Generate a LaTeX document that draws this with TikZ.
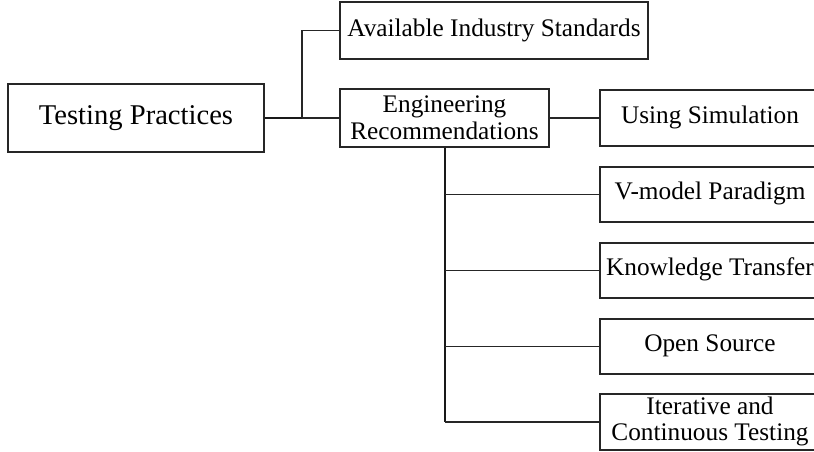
\documentclass[tikz,border=0pt]{standalone}
\usepackage{fontspec}
\setmainfont{Liberation Serif}
\newcommand{\leaftext}[1]{\begin{tabular}{@{}c@{}}#1\end{tabular}\hspace{40pt}}
\begin{document}
\begin{tikzpicture}[x=1pt,y=1pt,
  box/.style={draw=black!85, line width=1.5pt, rectangle, inner sep=0pt, align=center,
    font=\fontsize{25.3}{26.5}\selectfont},
  leaf/.style={box, minimum width=260pt, minimum height=55pt},
  conn/.style={draw=black!85, line width=1.5pt},
  trunk/.style={draw=black!90, line width=2pt}]
\useasboundingbox (0,0) rectangle (814,452);
\clip (0,0) rectangle (814,452);
\node[box, minimum width=256pt, minimum height=68pt, font=\fontsize{28.6}{30}\selectfont] (tp) at (136,334) {Testing Practices};
\node[box, minimum width=308pt, minimum height=57pt] (ais) at (494,421.5) {Available Industry Standards};
\node[box, minimum width=209pt, minimum height=58pt] (er) at (444.5,334) {Engineering\\Recommendations};
\node[leaf, minimum height=56pt] (us) at (730,334) {\leaftext{Using Simulation}};
\node[leaf] (vm) at (730,257.5) {\leaftext{V-model Paradigm}};
\node[leaf] (kt) at (730,181.5) {\leaftext{Knowledge Transfer}};
\node[leaf] (os) at (730,105.5) {\leaftext{Open Source}};
\node[leaf, minimum height=56pt] (ic) at (730,30) {\leaftext{Iterative and\\Continuous Testing}};
\coordinate (j) at (302,334);
\draw[trunk] (tp.east) -- (j);
\draw[conn] (j) |- (ais.west);
\draw[conn] (j) -- (er.west);
\draw[conn] (er.east) -- (us.west);
\draw[trunk] (er.south) -- (er.south |- ic.west);
\draw[conn] (er.south |- vm.west) -- (vm.west);
\draw[conn] (er.south |- kt.west) -- (kt.west);
\draw[conn] (er.south |- os.west) -- (os.west);
\draw[conn] (er.south |- ic.west) -- (ic.west);
\end{tikzpicture}
\end{document}
